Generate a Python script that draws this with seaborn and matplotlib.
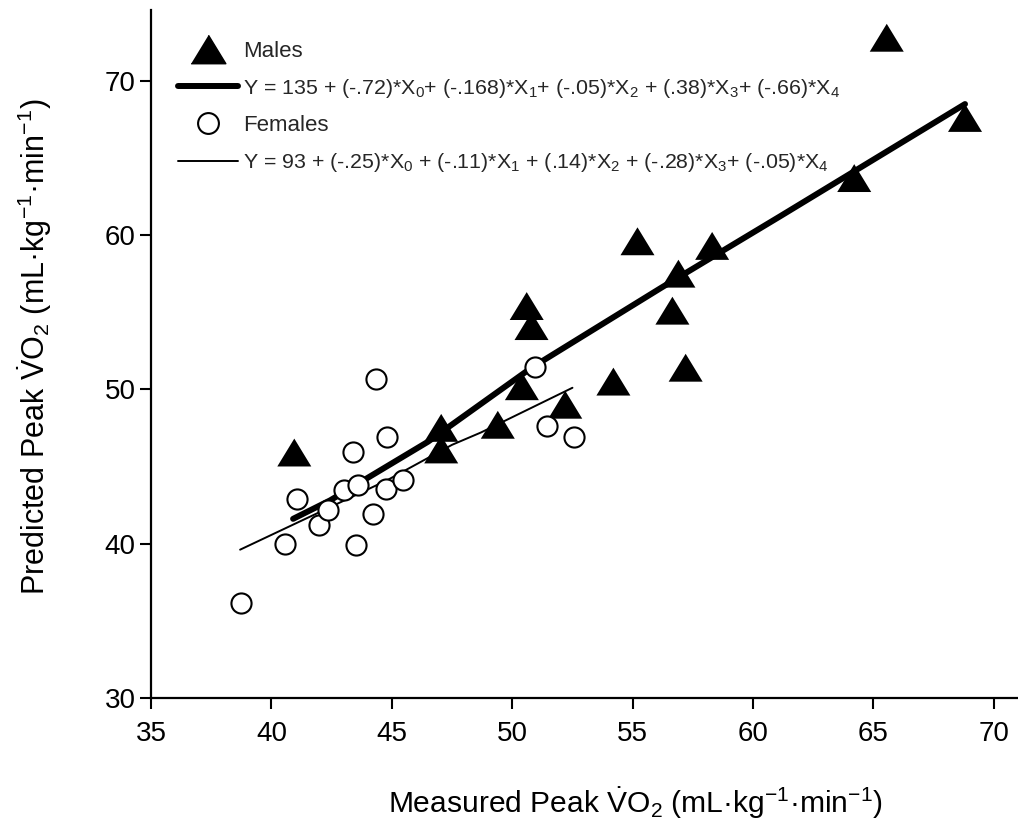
import numpy as np
import pandas as pd
import matplotlib
matplotlib.use("Agg")
import matplotlib.pyplot as plt
from matplotlib.lines import Line2D
import seaborn as sns

# ---- data ----
male_x = [65.55, 68.8, 64.2, 55.2, 58.3, 56.9, 56.65, 57.2, 54.2, 50.6, 50.8,
          50.4, 52.2, 49.4, 47.05, 47.05, 40.95]
male_y = [72.8, 67.6, 63.7, 59.6, 59.3, 57.5, 55.1, 51.4, 50.5, 55.4, 54.1,
          50.2, 49.0, 47.7, 47.5, 46.1, 45.9]

female_x = [38.73, 40.57, 43.52, 41.98, 44.21, 42.36, 41.06, 43.02, 43.6,
            44.77, 45.47, 43.4, 44.8, 44.35, 50.95, 51.43, 52.58]
female_y = [36.16, 39.96, 39.9, 41.19, 41.9, 42.16, 42.88, 43.46, 43.78,
            43.53, 44.1, 45.94, 46.9, 50.65, 51.43, 47.63, 46.9]

male_fit_x = [40.9, 42.44, 46.5, 50.8, 56.2, 61.1, 68.8]
male_fit_y = [41.6, 42.8, 46.6, 51.4, 56.6, 61.2, 68.5]

female_fit_x = [38.7, 44.8, 47.5, 48.7, 52.5]
female_fit_y = [39.6, 44.1, 46.4, 47.2, 50.1]

x_ticks = [35, 40, 45, 50, 55, 60, 65, 70]
y_ticks = [30, 40, 50, 60, 70]

male_label = "Males"
female_label = "Females"
male_eq = ("Y = 135 + (-.72)*X$_0$+ (-.168)*X$_1$+ (-.05)*X$_2$ + (.38)*X$_3$"
           "+ (-.66)*X$_4$")
female_eq = ("Y = 93 + (-.25)*X$_0$ + (-.11)*X$_1$ + (.14)*X$_2$ + (-.28)*X$_3$"
             "+ (-.05)*X$_4$")
x_label = r"Measured Peak $\dot{\mathrm{V}}$O$_2$ (mL·kg$^{-1}$·min$^{-1}$)"
y_label = r"Predicted Peak $\dot{\mathrm{V}}$O$_2$ (mL·kg$^{-1}$·min$^{-1}$)"

# ---- style ----
sns.set_theme(style="ticks")
plt.rcParams["font.family"] = ["Liberation Sans", "DejaVu Sans"]
plt.rcParams["mathtext.fontset"] = "custom"
plt.rcParams["mathtext.rm"] = "Liberation Sans"
plt.rcParams["mathtext.it"] = "Liberation Sans:italic"
plt.rcParams["mathtext.default"] = "regular"

fig = plt.figure(figsize=(10.18, 8.21), dpi=100)
ax = fig.add_axes([151 / 1018, (821 - 697.7) / 821, (1018 - 151) / 1018, 687.7 / 821])

males = pd.DataFrame({"x": male_x, "y": male_y})
females = pd.DataFrame({"x": female_x, "y": female_y})
mfit = pd.DataFrame({"x": male_fit_x, "y": male_fit_y})
ffit = pd.DataFrame({"x": female_fit_x, "y": female_fit_y})

tri = [(-1.0, -0.82), (1.0, -0.82), (0.0, 0.82)]

sns.lineplot(data=mfit, x="x", y="y", ax=ax, color="black", linewidth=4.3,
             sort=False, estimator=None, zorder=2)
sns.lineplot(data=ffit, x="x", y="y", ax=ax, color="black", linewidth=1.4,
             sort=False, estimator=None, zorder=2)
sns.scatterplot(data=males, x="x", y="y", ax=ax, marker=tri, s=600,
                color="black", edgecolor="none", linewidth=0, zorder=3)
sns.scatterplot(data=females, x="x", y="y", ax=ax, marker="o", s=210,
                facecolor="white", edgecolor="black", linewidth=1.5, zorder=4)

ax.set_xlim(35, 71.0)
ax.set_ylim(30, 74.6)
ax.set_xticks(x_ticks)
ax.set_yticks(y_ticks)
ax.set_xticklabels([str(t) for t in x_ticks])
ax.set_yticklabels([str(t) for t in y_ticks])
ax.tick_params(axis="both", direction="out", length=8, width=1.5,
               labelsize=20, colors="black")
ax.tick_params(axis="x", pad=9)
ax.tick_params(axis="y", pad=3)
for side in ["top", "right"]:
    ax.spines[side].set_visible(False)
for side in ["left", "bottom"]:
    ax.spines[side].set_linewidth(1.6)
    ax.spines[side].set_color("black")

ax.set_xlabel(x_label, fontsize=21.6, color="black")
ax.set_ylabel(y_label, fontsize=22, color="black")
ax.xaxis.set_label_coords(0.559, -0.128)
ax.yaxis.set_label_coords(-0.112, 0.51)

handles = [
    Line2D([], [], marker=tri, linestyle="None", color="black", markersize=25),
    Line2D([], [], color="black", linewidth=4.3),
    Line2D([], [], marker="o", linestyle="None", markerfacecolor="white",
           markeredgecolor="black", markeredgewidth=1.5, markersize=15),
    Line2D([], [], color="black", linewidth=1.4),
]
labels = [male_label, male_eq, female_label, female_eq]
leg = ax.legend(handles, labels, loc="upper left",
                bbox_to_anchor=(0.031, 0.955), frameon=False, fontsize=16,
                handlelength=2.7, handletextpad=0.25, labelspacing=0.68,
                borderpad=0, borderaxespad=0)
for i in (1, 3):
    t = leg.get_texts()[i]
    t.set_fontsize(15.4)

fig.savefig("out.png", dpi=100)
